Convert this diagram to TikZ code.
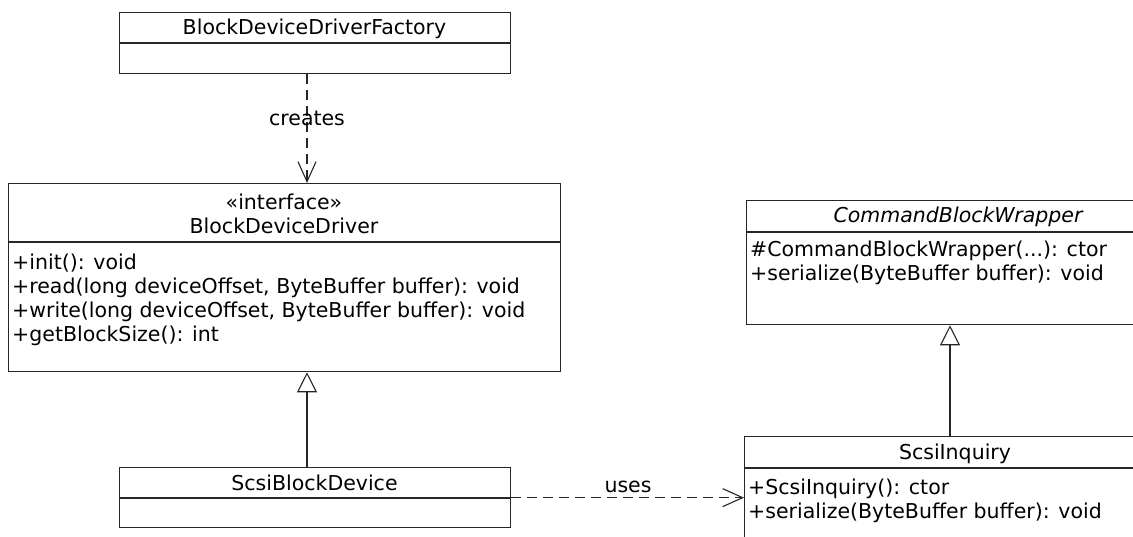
\documentclass[tikz,border=0pt]{standalone}
\usepackage{fontspec}
\setmainfont{DejaVu Sans}
\usetikzlibrary{arrows.meta,positioning}

\tikzset{
    classbox/.style={draw=black!85, line width=1.3pt, anchor=north west, inner sep=0pt},
    classname/.style={font=\fontsize{20.5}{24}\selectfont, inner sep=0pt, anchor=base},
    member/.style={font=\fontsize{20.5}{24}\selectfont, inner sep=0pt, anchor=base west},
    divider/.style={draw=black!85, line width=1.3pt},
    dependency/.style={draw=black!85, line width=1.1pt, dash pattern=on 10pt off 6pt,
        -{Straight Barb[length=20pt,width=18pt]}},
    realizes/.style={draw=black!85, line width=1.1pt,
        -{Triangle[open,length=20pt,width=20pt,fill=white]}},
    edgetext/.style={font=\fontsize{20.5}{24}\selectfont, inner sep=1pt}
}

\begin{document}
\begin{tikzpicture}[x=1pt, y=-1pt]
    \useasboundingbox (0,0) rectangle (1133,537);
    \clip (0,0) rectangle (1133,537);

    % class boxes
    \node[classbox, minimum width=391pt, minimum height=61pt] (factory) at (119,12) {};
    \node[classbox, minimum width=552pt, minimum height=188pt] (driver) at (8,183) {};
    \node[classbox, minimum width=391pt, minimum height=60pt] (scsidev) at (119,467) {};
    \node[classbox, minimum width=424pt, minimum height=124pt] (cbw) at (746,200) {};
    \node[classbox, minimum width=424pt, minimum height=130pt] (inquiry) at (744,436) {};

    % compartments
    \draw[divider] (factory.west |- 0,43) -- (factory.east |- 0,43);
    \draw[divider] (driver.west |- 0,242) -- (driver.east |- 0,242);
    \draw[divider] (scsidev.west |- 0,498) -- (scsidev.east |- 0,498);
    \draw[divider] (cbw.west |- 0,232) -- (cbw.east |- 0,232);
    \draw[divider] (inquiry.west |- 0,468) -- (inquiry.east |- 0,468);

    % names
    \node[classname] (factoryname) at (314.5,35) {BlockDeviceDriverFactory};
    \node[classname] (stereotype) at (284,210) {«interface»};
    \node[classname] (drivername) at (284,234) {BlockDeviceDriver};
    \node[classname] (scsidevname) at (314.5,490) {ScsiBlockDevice};
    \node[classname, font=\fontsize{20.5}{24}\selectfont\itshape] (cbwname) at (958,223) {CommandBlockWrapper};
    \node[classname] (inquiryname) at (955,459) {ScsiInquiry};

    % operations
    \foreach \op [count=\i from 0] in {{+init(): void},
            {+read(long deviceOffset, ByteBuffer buffer): void},
            {+write(long deviceOffset, ByteBuffer buffer): void},
            {+getBlockSize(): int}}
        \node[member] (driverop\i) at (12,270+23.7*\i) {\op};
    \node[member] (cbwop0) at (750,257) {\#CommandBlockWrapper(...): ctor};
    \node[member] (cbwop1) at (750,281) {+serialize(ByteBuffer buffer): void};
    \node[member] (inquiryop0) at (748,494) {+ScsiInquiry(): ctor};
    \node[member] (inquiryop1) at (748,518) {+serialize(ByteBuffer buffer): void};

    % relations
    \coordinate (leftaxis) at (307,0);
    \coordinate (rightaxis) at (950,0);
    \draw[dependency] (factory.south -| leftaxis) -- (driver.north -| leftaxis);
    \node[edgetext] (creates) at (307,118) {creates};
    \draw[realizes] (scsidev.north -| leftaxis) -- (driver.south -| leftaxis);
    \draw[realizes] (inquiry.north -| rightaxis) -- (cbw.south -| rightaxis);
    \draw[dependency] (scsidev.east) -- (scsidev.east -| inquiry.west);
    \node[edgetext] (uses) at (628,487) {uses};
\end{tikzpicture}
\end{document}
